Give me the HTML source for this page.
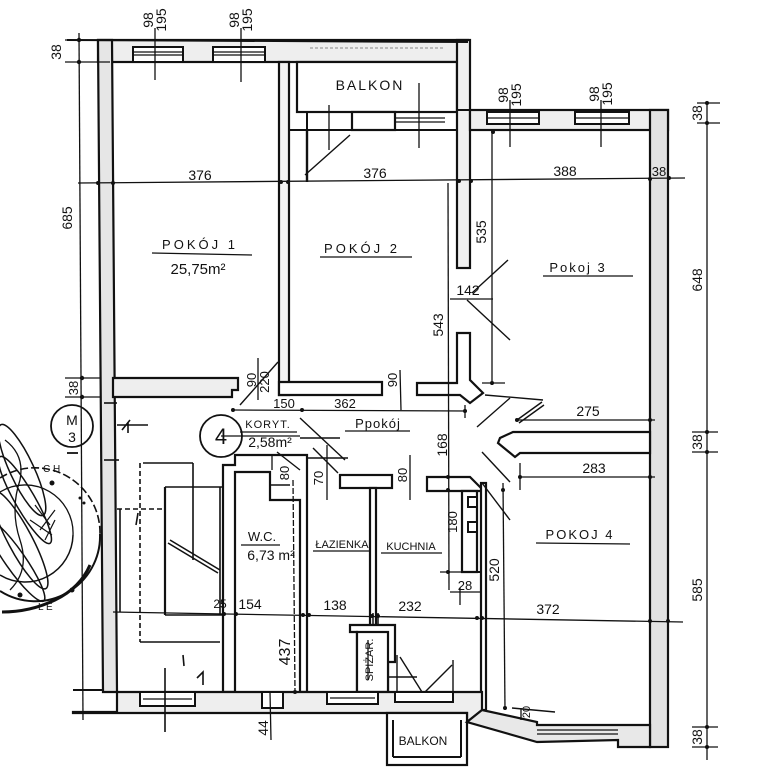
<!DOCTYPE html>
<html><head><meta charset="utf-8">
<style>
html,body{margin:0;padding:0;background:#fff;}
svg{display:block;}
text{font-family:"Liberation Sans",sans-serif;fill:#111;}
</style></head>
<body>
<svg width="778" height="768" viewBox="0 0 778 768" xmlns="http://www.w3.org/2000/svg">
<rect width="778" height="768" fill="#fff"/>

<!-- ===== WALLS ===== -->
<g stroke="#111" stroke-width="2.2" fill="#fff" stroke-linejoin="miter">
  <rect x="98" y="40" width="370" height="22" fill="#eee"/>
  <polygon points="98,40 112,40 117,692 103,692" fill="#e6e6e6"/>
  <rect x="279" y="62" width="10" height="333" fill="#f2f2f2"/>
  <polygon points="113,378 238,378 238,390 232,390 232,397 113,397" fill="#eee"/>
  <polygon points="289,382 382,382 382,395 279,395 279,382" fill="#fff"/>
  <rect x="297" y="62" width="160" height="50" fill="#fff"/>
  <rect x="457" y="40" width="13" height="228" fill="#f0f0f0"/>
  <polygon points="457,333 470,333 470,380 483,393 470,403 460,395 417,395 417,383 457,383" fill="#fff"/>
  <rect x="470" y="110" width="198" height="20" fill="#eee"/>
  <rect x="650" y="110" width="18" height="637" fill="#e2e2e2"/>
  <polygon points="513,432 650,432 650,453 520,453 515,457 498,443 500,438" fill="#fff"/>
  <rect x="352" y="112" width="43" height="18" fill="#fff"/>
  <polygon points="223,465 235,465 235,455 307,455 307,692 300,692 300,500 270,500 270,472 235,472 235,692 223,692" fill="#fff"/>
  <rect x="340" y="475" width="52" height="13" fill="#fff"/>
  <rect x="370" y="488" width="6" height="137" fill="#fff"/>
  <polygon points="427,477 470,477 484,491 472,491 427,491" fill="#fff"/>
  <polygon points="462,491 477,491 477,572 462,572" fill="#fff"/>
  <rect x="481" y="483" width="5" height="227" fill="#fff"/>
  <polygon points="350,625 395,625 395,662 388,662 388,692 357,692 357,632 350,632" fill="#fff"/>
  <rect x="357" y="632" width="31" height="60" fill="#fff"/>
  <polygon points="117,692 482,692 482,710 467,722 467,713 73,713 73,712 117,712" fill="#eee"/>
  <rect x="387" y="713" width="80" height="52" fill="#fff"/>
  <polygon points="482,710 537,722 537,725 650,725 650,747 618,747 618,740 537,742 467,722" fill="#e8e8e8"/>
</g>

<g stroke="#111" stroke-width="2" fill="none">
  <line x1="67" y1="40" x2="468" y2="42"/>
  <line x1="457" y1="110" x2="470" y2="110"/>
  <line x1="289" y1="130" x2="457" y2="130"/>
  <line x1="307" y1="112" x2="307" y2="130"/>
  <rect x="133" y="47" width="50" height="15" fill="#fff"/>
  <line x1="133" y1="52" x2="183" y2="52" stroke-width="1.3"/>
  <line x1="133" y1="55" x2="183" y2="55" stroke-width="1.3"/>
  <rect x="213" y="47" width="52" height="15" fill="#fff"/>
  <line x1="213" y1="52" x2="265" y2="52" stroke-width="1.3"/>
  <line x1="213" y1="55" x2="265" y2="55" stroke-width="1.3"/>
  <line x1="310" y1="48" x2="445" y2="48" stroke="#aaa" stroke-width="1.5" stroke-dasharray="3,2"/>
  <line x1="395" y1="118" x2="445" y2="118" stroke-width="1.3"/>
  <line x1="395" y1="122" x2="445" y2="122" stroke-width="1.3"/>
  <rect x="487" y="112" width="52" height="12" fill="#fff"/>
  <line x1="487" y1="118" x2="539" y2="118" stroke-width="1.3"/>
  <rect x="575" y="112" width="54" height="12" fill="#fff"/>
  <line x1="575" y1="118" x2="629" y2="118" stroke-width="1.3"/>
  <rect x="468" y="497" width="9" height="10" fill="#fff"/>
  <rect x="468" y="522" width="9" height="10" fill="#fff"/>
  <line x1="477" y1="572" x2="481" y2="572"/>
  <rect x="140" y="692" width="55" height="14" fill="#fff"/>
  <line x1="143" y1="699" x2="192" y2="699" stroke-width="1.3"/>
  <rect x="262" y="692" width="21" height="16" fill="#fff"/>
  <rect x="327" y="692" width="51" height="12" fill="#fff"/>
  <line x1="330" y1="698" x2="375" y2="698" stroke-width="1.3"/>
  <rect x="395" y="692" width="58" height="10" fill="#fff"/>
  <line x1="537" y1="730" x2="618" y2="730" stroke-width="1.3"/>
  <line x1="537" y1="734" x2="618" y2="734" stroke-width="1.3"/>
  <line x1="393" y1="720" x2="393" y2="757"/>
  <line x1="393" y1="757" x2="461" y2="757"/>
  <line x1="461" y1="720" x2="461" y2="757"/>
  <line x1="73" y1="690" x2="103" y2="690"/>
  <line x1="373" y1="613" x2="373" y2="625" stroke-width="1.5"/>
  <line x1="378" y1="613" x2="378" y2="625" stroke-width="1.5"/>
</g>

<g stroke="#111" stroke-width="1.6" fill="none">
  <line x1="143" y1="463" x2="193" y2="463"/>
  <line x1="193" y1="463" x2="193" y2="560"/>
  <line x1="140" y1="463" x2="140" y2="642" stroke-dasharray="5,3"/>
  <line x1="140" y1="642" x2="220" y2="642"/>
  <line x1="165" y1="487" x2="222" y2="487"/>
  <line x1="165" y1="487" x2="165" y2="615" stroke-width="2.2"/>
  <line x1="165" y1="615" x2="222" y2="615"/>
  <line x1="117" y1="509" x2="165" y2="509" stroke-dasharray="5,3"/>
  <line x1="120" y1="509" x2="120" y2="612"/>
  <line x1="168" y1="543" x2="218" y2="573"/>
  <line x1="170" y1="540" x2="220" y2="570"/>
  <line x1="220" y1="487" x2="220" y2="615"/>
  <line x1="138" y1="513" x2="136" y2="525"/>
  <line x1="183" y1="655" x2="184" y2="666"/>
  <line x1="117" y1="425" x2="148" y2="425"/>
  <path d="M122,430 L130,420 M128,422 L128,433"/>
  <line x1="104" y1="403" x2="117" y2="403"/>
  <line x1="104" y1="460" x2="119" y2="460"/>
  <line x1="165" y1="668" x2="165" y2="732"/>
  <path d="M197,678 L203,672 L203,685"/>
</g>

<g stroke="#111" stroke-width="1.4" fill="none">
  <line x1="305" y1="175" x2="350" y2="135"/>
  <line x1="240" y1="405" x2="278" y2="362"/>
  <line x1="508" y1="260" x2="472" y2="293"/>
  <line x1="467" y1="300" x2="510" y2="340"/>
  <line x1="485" y1="395" x2="543" y2="400"/>
  <line x1="477" y1="427" x2="510" y2="398"/>
  <line x1="517" y1="420" x2="542" y2="402"/>
  <line x1="519" y1="423" x2="544" y2="405"/>
  <line x1="482" y1="452" x2="510" y2="482"/>
  <line x1="482" y1="483" x2="510" y2="520"/>
  <line x1="300" y1="418" x2="345" y2="460"/>
  <line x1="308" y1="458" x2="348" y2="458"/>
  <line x1="300" y1="438" x2="340" y2="438"/>
  <line x1="313" y1="448" x2="338" y2="473"/>
  <line x1="277" y1="452" x2="300" y2="470"/>
  <line x1="270" y1="485" x2="290" y2="485"/>
  <line x1="397" y1="655" x2="397" y2="692"/>
  <line x1="453" y1="660" x2="453" y2="692"/>
  <line x1="400" y1="657" x2="422" y2="692"/>
  <line x1="425" y1="692" x2="452" y2="665"/>
  <line x1="387" y1="677" x2="417" y2="677"/>
  <line x1="512" y1="708" x2="555" y2="712"/>
</g>

<g stroke="#111" stroke-width="1.3" fill="none">
  <line x1="79" y1="33" x2="83" y2="720"/>
  <line x1="65" y1="40" x2="100" y2="40"/>
  <line x1="65" y1="62" x2="110" y2="62"/>
  <line x1="65" y1="378" x2="100" y2="378"/>
  <line x1="65" y1="397" x2="100" y2="397"/>
  <line x1="78" y1="183" x2="685" y2="178"/>
  <line x1="155" y1="28" x2="155" y2="80"/>
  <line x1="241" y1="28" x2="241" y2="82"/>
  <line x1="510" y1="100" x2="510" y2="147"/>
  <line x1="601" y1="100" x2="601" y2="147"/>
  <line x1="329" y1="105" x2="329" y2="150"/>
  <line x1="419" y1="83" x2="419" y2="148"/>
  <line x1="307" y1="130" x2="307" y2="182" stroke-width="2.4"/>
  <line x1="707" y1="103" x2="707" y2="760"/>
  <line x1="697" y1="103" x2="720" y2="103"/>
  <line x1="697" y1="123" x2="720" y2="123"/>
  <line x1="692" y1="432" x2="718" y2="432"/>
  <line x1="692" y1="452" x2="718" y2="452"/>
  <line x1="692" y1="727" x2="718" y2="727"/>
  <line x1="692" y1="747" x2="718" y2="747"/>
  <line x1="233" y1="410" x2="467" y2="411"/>
  <line x1="465" y1="405" x2="465" y2="418"/>
  <line x1="515" y1="420" x2="655" y2="420"/>
  <line x1="520" y1="477" x2="655" y2="477"/>
  <line x1="520" y1="463" x2="520" y2="490"/>
  <line x1="113" y1="612" x2="683" y2="622"/>
  <line x1="448" y1="183" x2="449" y2="590"/>
  <line x1="492" y1="130" x2="492" y2="385"/>
  <line x1="482" y1="383" x2="505" y2="383"/>
  <line x1="450" y1="299" x2="493" y2="299"/>
  <line x1="503" y1="483" x2="505" y2="710"/>
  <line x1="293" y1="480" x2="295" y2="692" stroke-dasharray="6,2"/>
  <line x1="270" y1="692" x2="271" y2="740"/>
  <line x1="258" y1="358" x2="258" y2="400"/>
  <line x1="400" y1="370" x2="401" y2="410"/>
  <line x1="327" y1="445" x2="327" y2="500"/>
  <line x1="410" y1="455" x2="410" y2="500"/>
  <line x1="272" y1="455" x2="272" y2="470"/>
  <line x1="440" y1="572" x2="470" y2="572"/>
  <line x1="450" y1="592" x2="480" y2="592"/>
  <line x1="460" y1="588" x2="460" y2="605"/>
  <line x1="521" y1="708" x2="521" y2="720"/>
  <line x1="152" y1="253" x2="252" y2="255"/>
  <line x1="320" y1="257" x2="412" y2="257"/>
  <line x1="543" y1="276" x2="633" y2="276"/>
  <line x1="536" y1="543" x2="630" y2="544"/>
  <line x1="240" y1="432" x2="297" y2="432"/>
  <line x1="345" y1="431" x2="410" y2="431"/>
  <line x1="241" y1="545" x2="280" y2="545"/>
  <line x1="313" y1="551" x2="370" y2="551"/>
  <line x1="381" y1="553" x2="442" y2="553"/>
  <line x1="221" y1="436" x2="300" y2="436"/>
  <line x1="368" y1="640" x2="368" y2="680"/>
</g>

<g fill="#111">
  <circle cx="79" cy="40" r="2.2"/><circle cx="79" cy="62" r="2.2"/>
  <circle cx="82" cy="378" r="2.2"/><circle cx="82" cy="397" r="2.2"/>
  <circle cx="98" cy="183" r="2"/><circle cx="113" cy="183" r="2"/>
  <circle cx="281" cy="182" r="2"/><circle cx="288" cy="182" r="2"/>
  <circle cx="459" cy="181" r="2"/><circle cx="471" cy="181" r="2"/>
  <circle cx="650" cy="179" r="2"/><circle cx="669" cy="178" r="2"/>
  <circle cx="493" cy="132" r="2"/>
  <circle cx="707" cy="103" r="2"/><circle cx="707" cy="123" r="2"/>
  <circle cx="707" cy="432" r="2"/><circle cx="707" cy="452" r="2"/>
  <circle cx="707" cy="727" r="2"/><circle cx="707" cy="747" r="2"/>
  <circle cx="233" cy="410" r="2"/><circle cx="302" cy="410" r="2"/>
  <circle cx="465" cy="411" r="2"/>
  <circle cx="517" cy="420" r="2"/><circle cx="650" cy="420" r="2"/>
  <circle cx="520" cy="477" r="2"/><circle cx="650" cy="477" r="2"/>
  <circle cx="224" cy="614" r="2"/><circle cx="236" cy="614" r="2"/>
  <circle cx="303" cy="615" r="2"/><circle cx="309" cy="615" r="2"/>
  <circle cx="372" cy="616" r="2"/><circle cx="378" cy="616" r="2"/>
  <circle cx="477" cy="618" r="2"/><circle cx="482" cy="618" r="2"/>
  <circle cx="650" cy="621" r="2"/><circle cx="668" cy="621" r="2"/>
  <circle cx="448" cy="477" r="2"/><circle cx="448" cy="490" r="2"/>
  <circle cx="448" cy="572" r="2"/><circle cx="492" cy="383" r="2"/>
  <circle cx="503" cy="490" r="2"/><circle cx="505" cy="708" r="2"/>
  <circle cx="295" cy="692" r="2"/>
</g>

<g stroke="#111" stroke-width="1.8" fill="none">
  <circle cx="221" cy="436" r="21"/>
  <circle cx="72" cy="426" r="21"/>
  <line x1="67" y1="453" x2="78" y2="453"/>
  <path d="M100,534 A65,65 0 0 1 0,591" stroke-width="2"/>
  <path d="M0,478 A65,65 0 0 1 100,534" stroke-width="1.6" stroke-dasharray="8,3"/>
  <path d="M2,612 Q30,612 55,600 Q80,588 90,565" stroke-width="3"/>
  <path d="M73,535 A48,48 0 0 1 0,575" stroke-width="1.5"/>
  <path d="M0,492 A48,48 0 0 1 73,535" stroke-width="1.3"/>
  <ellipse cx="22" cy="470" rx="12" ry="50" transform="rotate(-25 22 470)" stroke-width="1.5"/>
  <ellipse cx="25" cy="500" rx="10" ry="50" transform="rotate(-30 25 500)" stroke-width="1.5"/>
  <ellipse cx="20" cy="540" rx="12" ry="55" transform="rotate(-28 20 540)" stroke-width="1.5"/>
  <ellipse cx="15" cy="560" rx="10" ry="50" transform="rotate(-35 15 560)" stroke-width="1.5"/>
  <path d="M5,440 Q25,455 20,480 Q10,510 20,540 Q30,570 10,590" stroke-width="1.3"/>
  <path d="M35,505 L50,525 M40,530 L55,510 M45,540 L55,520 M30,520 L52,535" stroke-width="1.2"/>
</g>
<g fill="#111">
  <circle cx="52" cy="483" r="2.5"/><circle cx="80" cy="498" r="1.5"/><circle cx="84" cy="503" r="1.5"/>
  <circle cx="20" cy="595" r="2.5"/><circle cx="72" cy="590" r="2.5"/>
</g>
<text x="43" y="472" font-size="10">C H</text>
<text x="38" y="610" font-size="10">L E</text>

<g font-size="14">
  <text x="370" y="90" text-anchor="middle" letter-spacing="2">BALKON</text>
  <text x="200" y="249" text-anchor="middle" letter-spacing="3" font-size="13">POKÓJ  1</text>
  <text x="198" y="274" text-anchor="middle" font-size="15">25,75m²</text>
  <text x="362" y="253" text-anchor="middle" letter-spacing="3" font-size="13">POKÓJ  2</text>
  <text x="578" y="272" text-anchor="middle" letter-spacing="2" font-size="13">Pokoj  3</text>
  <text x="580" y="539" text-anchor="middle" letter-spacing="2" font-size="13">POKOJ 4</text>
  <text x="268" y="428" text-anchor="middle" font-size="11" letter-spacing="1">KORYT.</text>
  <text x="270" y="447" text-anchor="middle" font-size="14">2,58m²</text>
  <text x="378" y="428" text-anchor="middle" font-size="13" letter-spacing="1">Ppokój</text>
  <text x="262" y="541" text-anchor="middle" font-size="13">W.C.</text>
  <text x="271" y="560" text-anchor="middle" font-size="14">6,73 m²</text>
  <text x="342" y="548" text-anchor="middle" font-size="11">ŁAZIENKA</text>
  <text x="411" y="550" text-anchor="middle" font-size="11">KUCHNIA</text>
  <text x="423" y="745" text-anchor="middle" font-size="12">BALKON</text>
  <text x="0" y="0" font-size="11" text-anchor="middle" transform="translate(373,660) rotate(-90)">SPIŻAR.</text>
  <text x="221" y="444" text-anchor="middle" font-size="22">4</text>
  <text x="72" y="425" text-anchor="middle" font-size="14">M</text>
  <text x="72" y="442" text-anchor="middle" font-size="14">3</text>

  <text x="200" y="180" text-anchor="middle">376</text>
  <text x="375" y="178" text-anchor="middle">376</text>
  <text x="565" y="176" text-anchor="middle">388</text>
  <text x="659" y="176" text-anchor="middle" font-size="13">38</text>
  <text x="284" y="408" text-anchor="middle" font-size="13">150</text>
  <text x="345" y="408" text-anchor="middle" font-size="13">362</text>
  <text x="588" y="416" text-anchor="middle">275</text>
  <text x="594" y="473" text-anchor="middle">283</text>
  <text x="468" y="295" text-anchor="middle">142</text>
  <text x="465" y="590" text-anchor="middle" font-size="13">28</text>
  <text x="220" y="608" text-anchor="middle" font-size="12">25</text>
  <text x="250" y="609" text-anchor="middle">154</text>
  <text x="335" y="610" text-anchor="middle">138</text>
  <text x="410" y="611" text-anchor="middle">232</text>
  <text x="548" y="614" text-anchor="middle">372</text>

  <g text-anchor="middle">
    <text transform="translate(61,52) rotate(-90)">38</text>
    <text transform="translate(72,218) rotate(-90)">685</text>
    <text transform="translate(78,388) rotate(-90)" font-size="13">38</text>
    <text transform="translate(153,20) rotate(-90)">98</text>
    <text transform="translate(166,20) rotate(-90)">195</text>
    <text transform="translate(239,20) rotate(-90)">98</text>
    <text transform="translate(252,20) rotate(-90)">195</text>
    <text transform="translate(508,95) rotate(-90)">98</text>
    <text transform="translate(521,95) rotate(-90)">195</text>
    <text transform="translate(599,94) rotate(-90)">98</text>
    <text transform="translate(612,94) rotate(-90)">195</text>
    <text transform="translate(702,113) rotate(-90)">38</text>
    <text transform="translate(702,280) rotate(-90)">648</text>
    <text transform="translate(702,442) rotate(-90)">38</text>
    <text transform="translate(702,590) rotate(-90)">585</text>
    <text transform="translate(702,737) rotate(-90)">38</text>
    <text transform="translate(486,232) rotate(-90)">535</text>
    <text transform="translate(443,325) rotate(-90)">543</text>
    <text transform="translate(447,445) rotate(-90)">168</text>
    <text transform="translate(457,522) rotate(-90)" font-size="13">180</text>
    <text transform="translate(499,570) rotate(-90)">520</text>
    <text transform="translate(290,652) rotate(-90)" font-size="16">437</text>
    <text transform="translate(268,728) rotate(-90)">44</text>
    <text transform="translate(256,380) rotate(-90)" font-size="13">90</text>
    <text transform="translate(269,382) rotate(-90)" font-size="13">220</text>
    <text transform="translate(397,380) rotate(-90)" font-size="13">90</text>
    <text transform="translate(289,473) rotate(-90)" font-size="13">80</text>
    <text transform="translate(323,478) rotate(-90)" font-size="13">70</text>
    <text transform="translate(407,475) rotate(-90)" font-size="13">80</text>
    <text transform="translate(530,712) rotate(-90)" font-size="11">20</text>
  </g>
</g>
</svg>
</body></html>
